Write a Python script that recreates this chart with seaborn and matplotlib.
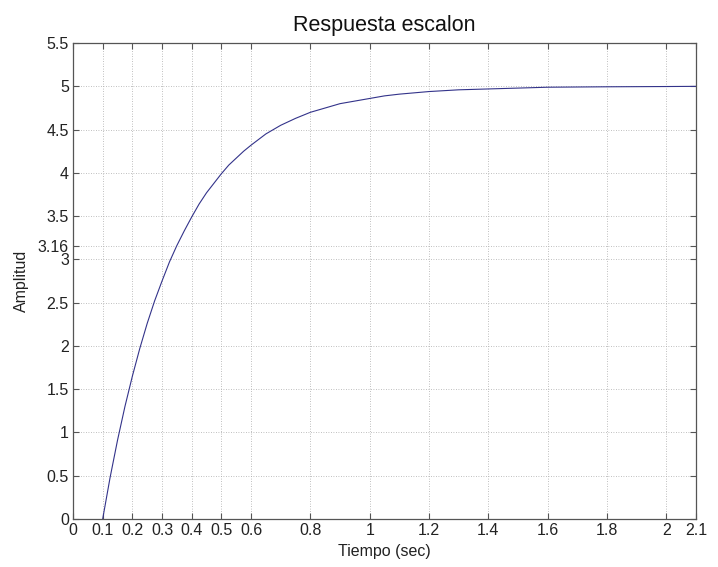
import numpy as np
import pandas as pd
import matplotlib
matplotlib.use("Agg")
import matplotlib.pyplot as plt
import seaborn as sns

# step response
tiempo = [0.1, 0.125, 0.15, 0.175, 0.2, 0.225, 0.25, 0.275, 0.3, 0.325, 0.35,
          0.375, 0.4, 0.425, 0.45, 0.475, 0.5, 0.525, 0.55, 0.575, 0.6,
          0.65, 0.7, 0.75, 0.8, 0.85, 0.9, 0.95, 1.0, 1.05, 1.1, 1.15, 1.2,
          1.3, 1.4, 1.5, 1.6, 1.8, 2.0, 2.1]
amplitud = [0.0, 0.48, 0.91, 1.30, 1.65, 1.97, 2.26, 2.52, 2.75, 2.97, 3.16,
            3.33, 3.49, 3.64, 3.77, 3.88, 3.99, 4.09, 4.17, 4.25, 4.32,
            4.45, 4.55, 4.63, 4.70, 4.75, 4.80, 4.83, 4.86, 4.89, 4.91, 4.925, 4.94,
            4.96, 4.97, 4.98, 4.99, 4.995, 4.998, 5.0]

x_ticks = [0, 0.1, 0.2, 0.3, 0.4, 0.5, 0.6, 0.8, 1, 1.2, 1.4, 1.6, 1.8, 2, 2.1]
x_labels = ["0", "0.1", "0.2", "0.3", "0.4", "0.5", "0.6", "0.8", "1",
            "1.2", "1.4", "1.6", "1.8", "2", "2.1"]
y_ticks = [0, 0.5, 1, 1.5, 2, 2.5, 3, 3.16, 3.5, 4, 4.5, 5, 5.5]
y_labels = ["0", "0.5", "1", "1.5", "2", "2.5", "3", "3.16", "3.5", "4",
            "4.5", "5", "5.5"]

df = pd.DataFrame({"Tiempo": tiempo, "Amplitud": amplitud})

sns.set_style("ticks")
plt.rcParams["font.family"] = ["Liberation Sans", "DejaVu Sans"]

fig = plt.figure(figsize=(7.18, 5.67), dpi=100)
ax = fig.add_axes([0.1017, 0.0847, 0.8677, 0.8393])

sns.lineplot(data=df, x="Tiempo", y="Amplitud", ax=ax, color="#33338a",
             linewidth=0.8, estimator=None, sort=False)

ax.set_xlim(0, 2.1)
ax.set_ylim(0, 5.5)
ax.set_xticks(x_ticks)
ax.set_xticklabels(x_labels)
ax.set_yticks(y_ticks)
ax.set_yticklabels(y_labels)

ax.grid(True, linestyle=(0, (1, 2)), color="#aaaaaa", linewidth=0.6)
ax.tick_params(direction="in", top=True, right=True, length=4, width=0.8,
               color="#555555", labelsize=11.5, labelcolor="#222222", pad=3)
for s in ax.spines.values():
    s.set_color("#555555")
    s.set_linewidth(0.9)

ax.set_xlabel("Tiempo (sec)", fontsize=11.5, color="#222222", labelpad=4)
ax.set_ylabel("Amplitud", fontsize=11.5, color="#222222", labelpad=6)
ax.set_title("Respuesta escalon", fontsize=15.5, color="#111111", pad=9)

fig.savefig("out.png", dpi=100)
